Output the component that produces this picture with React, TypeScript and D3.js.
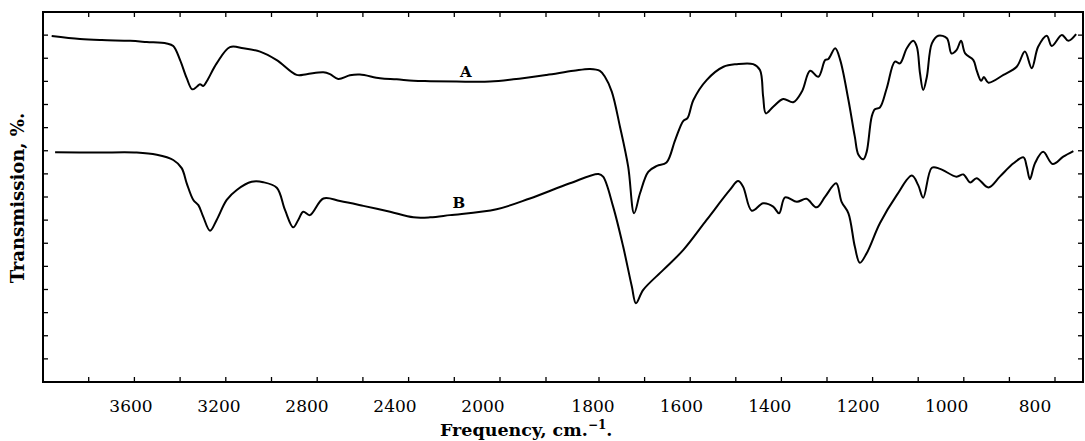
import React from "react";
import * as d3 from "d3";

// Frequency (cm-1) and transmission (%) of curve A
const freqA = [3962,3838,3743,3619,3546,3459,3430,3400,3371,3347,3327,3313,3299,3284,3240,3182,3123,3050,2977,2890,2846,2773,2744,2708,2657,2613,2525,2452,2379,2306,2190,2044,1971,1899,1848,1817,1798,1787,1772,1754,1736,1723,1710,1692,1673,1652,1633,1615,1606,1593,1564,1527,1498,1462,1447,1440,1434,1418,1396,1374,1355,1337,1319,1304,1297,1282,1271,1253,1239,1231,1220,1213,1202,1195,1184,1169,1151,1140,1125,1111,1103,1096,1089,1081,1070,1056,1037,1027,1016,1006,997,979,972,962,956,946,913,884,866,851,837,818,807,785,771,754];
const transA = [93.5,92.7,92.4,92.2,91.9,91.5,90.8,87.0,82.1,79.1,79.8,80.5,80.0,81.2,86.1,90.5,90.2,89.3,87.0,83.0,83.2,83.7,83.2,81.9,82.9,83.1,82.1,81.8,81.4,81.3,81.2,81.2,81.8,83.0,84.1,84.6,84.1,82.5,78.5,69.0,58.2,45.6,51.0,56.8,58.4,59.3,65.4,70.6,71.3,76.2,81.6,85.2,85.9,85.9,84.3,77.1,72.6,74.4,76.5,75.6,78.5,84.1,82.5,87.0,87.3,90.2,87.0,76.2,66.3,61.4,60.2,62.2,71.7,73.7,74.2,79.4,86.6,86.1,90.2,92.2,90.6,83.4,78.9,82.5,91.5,93.6,92.9,88.8,89.7,92.2,88.8,87.0,84.3,81.4,82.4,80.9,83.0,85.2,89.3,84.8,90.6,93.6,90.8,93.8,92.2,94.0];

// Frequency (cm-1) and transmission (%) of curve B
const freqB = [3947,3765,3590,3502,3430,3393,3371,3342,3320,3299,3269,3240,3196,3152,3087,3036,2977,2941,2905,2883,2861,2832,2773,2700,2598,2481,2379,2306,2219,2015,1935,1855,1801,1791,1769,1747,1728,1719,1703,1659,1615,1564,1513,1495,1484,1465,1440,1418,1405,1392,1366,1345,1323,1304,1280,1268,1253,1239,1228,1213,1184,1147,1114,1100,1089,1070,1052,1016,1001,986,972,946,921,891,869,862,855,844,826,805,782,760];
const transB = [62.1,62.0,62.0,61.4,60.0,57.8,53.7,49.2,47.8,44.7,40.9,43.8,49.2,51.9,54.1,54.0,52.5,46.5,41.8,43.8,46.0,45.1,49.6,48.9,47.6,46.0,44.5,44.5,45.1,46.7,49.6,53.7,56.2,55.5,47.4,36.6,25.8,21.3,24.9,30.3,35.7,43.8,51.9,54.3,52.8,46.3,48.3,47.4,45.6,49.9,48.7,49.5,47.2,50.1,53.7,48.7,45.6,36.6,32.2,34.8,42.9,50.5,55.8,53.2,49.8,57.9,57.6,55.5,56.1,53.9,55.1,52.6,55.5,59.1,60.7,58.2,54.8,59.1,62.2,58.9,60.9,62.4];

// Axis tick values and labels
const xTickValues = [3800,3600,3400,3200,3000,2800,2600,2400,2200,2000,1900,1800,1700,1600,1500,1400,1300,1200,1100,1000,900,800];
const xTickLabels = [3600,3200,2800,2400,2000,1800,1600,1400,1200,1000,800];
const yTickValues = d3.range(1, 16).map((k) => k * 6.25);

const curveLabels = [
  { name: "A", freq: 2150, trans: 82.4 },
  { name: "B", freq: 2180, trans: 47.0 },
];

const W = 1085;
const H = 441;
const left = 43, right = 1083, top = 12, bottom = 382;

export default function App() {
  // Chart paper: scale changes at 2000 cm-1
  const x = d3.scaleLinear()
    .domain([4000, 2000, 1900, 1800, 800, 739])
    .range([left, 500, 546, 599, 1055, right]);
  // Printed label strip (slightly compressed relative to paper)
  const xl = d3.scaleLinear()
    .domain([3600, 2000, 1800, 800])
    .range([131, 483, 593, 1035]);
  const y = d3.scaleLinear().domain([0, 100]).range([bottom, top]);

  const line = d3.line<[number, number]>()
    .x((d) => x(d[0]))
    .y((d) => y(d[1]))
    .curve(d3.curveCatmullRom.alpha(0.5));

  const dataA = freqA.map((f, i) => [f, transA[i]] as [number, number]);
  const dataB = freqB.map((f, i) => [f, transB[i]] as [number, number]);

  const font = "'DejaVu Serif', 'Liberation Serif', serif";
  const tick = 5;

  return (
    <svg width={W} height={H} style={{ position: "absolute", left: 0, top: 0, background: "#fff" }}>
      <rect x={0} y={0} width={W} height={H} fill="#fff" />
      <rect x={left} y={top} width={right - left} height={bottom - top} fill="none" stroke="#000" strokeWidth={2} />
      {xTickValues.map((v) => (
        <g key={"xt" + v}>
          <line x1={x(v)} x2={x(v)} y1={top} y2={top + tick} stroke="#000" strokeWidth={1.3} />
          <line x1={x(v)} x2={x(v)} y1={bottom} y2={bottom - tick} stroke="#000" strokeWidth={1.3} />
        </g>
      ))}
      {yTickValues.map((v) => (
        <g key={"yt" + v}>
          <line x1={left} x2={left + tick} y1={y(v)} y2={y(v)} stroke="#000" strokeWidth={1.3} />
          <line x1={right} x2={right - tick} y1={y(v)} y2={y(v)} stroke="#000" strokeWidth={1.3} />
        </g>
      ))}
      <path d={line(dataA) || ""} fill="none" stroke="#000" strokeWidth={2} strokeLinejoin="round" />
      <path d={line(dataB) || ""} fill="none" stroke="#000" strokeWidth={2} strokeLinejoin="round" />
      {curveLabels.map((c) => (
        <text key={c.name} x={x(c.freq)} y={y(c.trans)} textAnchor="middle" fontFamily={font} fontWeight="bold" fontSize={15}>
          {c.name}
        </text>
      ))}
      {xTickLabels.map((v) => (
        <text key={"xl" + v} x={xl(v)} y={412} textAnchor="middle" fontFamily={font} fontSize={17}>
          {v}
        </text>
      ))}
      <text x={440} y={436} fontFamily={font} fontWeight="bold" fontSize={17.5}>
        Frequency, cm.<tspan dy={-7} fontSize={12}>−1</tspan><tspan dy={7}>.</tspan>
      </text>
      <text transform={`translate(24, 198) rotate(-90)`} textAnchor="middle" fontFamily={font} fontWeight="bold" fontSize={18}>
        Transmission, %.
      </text>
    </svg>
  );
}
